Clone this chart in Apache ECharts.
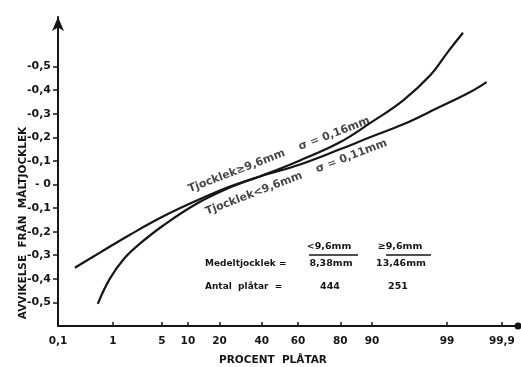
<!DOCTYPE html>
<html>
<head>
<meta charset="utf-8">
<script src="https://cdn.jsdelivr.net/npm/echarts@6/dist/echarts.min.js"></script>
<style>
  html, body { margin: 0; padding: 0; background: #fff; }
  #chart { width: 521px; height: 367px; }
</style>
</head>
<body>
<div id="chart"></div>
<script>
// percent of plates (probability scale) and deviation from nominal thickness (mm)
const thickPct = [0.56, 0.89, 1.54, 2.56, 5.16, 12.4, 24.3, 39.0, 61.0, 79.8, 89.5, 95.7, 98.2, 99.0, 99.46];
const thickDev = [-0.506, -0.400, -0.311, -0.251, -0.175, -0.081, -0.013, 0.034, 0.102, 0.179, 0.260, 0.357, 0.464, 0.557, 0.643];
const thinPct = [0.215, 0.61, 1.84, 5.16, 12.4, 24.3, 39.0, 61.0, 79.8, 89.5, 95.7, 98.56, 99.59, 99.80];
const thinDev = [-0.353, -0.289, -0.213, -0.136, -0.068, -0.009, 0.034, 0.085, 0.149, 0.200, 0.255, 0.323, 0.391, 0.434];

const xTickPct = [0.1, 1, 5, 10, 20, 40, 60, 80, 90, 99, 99.9];
const xTickLabels = ['0,1', '1', '5', '10', '20', '40', '60', '80', '90', '99', '99,9'];
const yTicks = [-0.5, -0.4, -0.3, -0.2, -0.1, 0, 0.1, 0.2, 0.3, 0.4, 0.5];
const yTickLabels = ['-0,5', '-0,4', '-0,3', '-0,2', '-0,1', '- 0', '-0,1', '-0,2', '-0,3', '-0,4', '-0,5'];

// normal quantile (Acklam) -> probability paper
function probit(p) {
  const a = [-39.6968302866538, 220.946098424521, -275.928510446969, 138.357751867269, -30.6647980661472, 2.50662827745924];
  const b = [-54.4760987982241, 161.585836858041, -155.698979859887, 66.8013118877197, -13.2806815528857];
  const c = [-0.00778489400243029, -0.322396458041136, -2.40075827716184, -2.54973253934373, 4.37466414146497, 2.93816398269878];
  const d = [0.00778469570904146, 0.32246712907004, 2.445134137143, 3.75440866190742];
  const pl = 0.02425;
  let q, r;
  if (p < pl) {
    q = Math.sqrt(-2 * Math.log(p));
    return (((((c[0]*q+c[1])*q+c[2])*q+c[3])*q+c[4])*q+c[5]) / ((((d[0]*q+d[1])*q+d[2])*q+d[3])*q+1);
  }
  if (p > 1 - pl) {
    q = Math.sqrt(-2 * Math.log(1 - p));
    return -(((((c[0]*q+c[1])*q+c[2])*q+c[3])*q+c[4])*q+c[5]) / ((((d[0]*q+d[1])*q+d[2])*q+d[3])*q+1);
  }
  q = p - 0.5; r = q * q;
  return (((((a[0]*r+a[1])*r+a[2])*r+a[3])*r+a[4])*r+a[5])*q / (((((b[0]*r+b[1])*r+b[2])*r+b[3])*r+b[4])*r+1);
}
const z = pct => probit(pct / 100);

const xTicks = xTickPct.map(z);
const ink = '#161616';
const font = 'DejaVu Sans';

const chart = echarts.init(document.getElementById('chart'));
chart.setOption({
  backgroundColor: '#fff',
  animation: false,
  grid: { left: 58, right: 3, top: 17, bottom: 41 },
  xAxis: {
    type: 'value',
    min: z(0.1),
    max: 3.315,
    splitLine: { show: false },
    axisLine: { onZero: false, lineStyle: { color: ink, width: 2 }, symbol: ['none', 'circle'], symbolSize: [7, 7] },
    axisTick: { show: true, inside: true, length: 4, customValues: xTicks, lineStyle: { color: ink, width: 1.5 } },
    axisLabel: {
      customValues: xTicks, margin: 10, color: ink, fontFamily: font, fontSize: 10.5, fontWeight: 'bold',
      formatter: v => {
        let best = 0;
        xTicks.forEach((t, i) => { if (Math.abs(t - v) < Math.abs(xTicks[best] - v)) best = i; });
        return xTickLabels[best];
      }
    }
  },
  yAxis: {
    type: 'value',
    min: -0.6,
    max: 0.71,
    splitLine: { show: false },
    axisLine: { onZero: false, lineStyle: { color: ink, width: 2 }, symbol: ['none', 'arrow'], symbolSize: [9, 14] },
    axisTick: { show: true, length: 5, customValues: yTicks, lineStyle: { color: ink, width: 1.5 } },
    axisLabel: {
      customValues: yTicks, margin: 7, color: ink, fontFamily: font, fontSize: 11, fontWeight: 'bold',
      formatter: v => {
        const i = yTicks.findIndex(t => Math.abs(t - v) < 1e-6);
        return i < 0 ? '' : yTickLabels[i];
      }
    }
  },
  series: [
    {
      type: 'line', silent: true, smooth: 0.4, symbol: 'none',
      lineStyle: { color: ink, width: 2.2 },
      data: thickPct.map((p, i) => [z(p), thickDev[i]])
    },
    {
      type: 'line', silent: true, smooth: 0.4, symbol: 'none',
      lineStyle: { color: ink, width: 2.2 },
      data: thinPct.map((p, i) => [z(p), thinDev[i]])
    },
    {
      type: 'scatter', silent: true, symbolSize: 0,
      label: {
        show: true, position: 'inside', rotate: 21, color: ink,
        fontFamily: font, fontSize: 11, fontWeight: 'bold',
        formatter: p => p.data[2]
      },
      data: [
        [z(49.5), 0.125, 'Tjocklek≥9,6mm    σ = 0,16mm'],
        [z(59), 0.030, 'Tjocklek<9,6mm    σ = 0,11mm']
      ]
    }
  ],
  graphic: [
    { type: 'text', x: 23, y: 223, rotation: Math.PI / 2,
      style: { text: 'AVVIKELSE  FRÅN  MÅLTJOCKLEK', fill: ink, font: 'bold 10.5px "DejaVu Sans"', align: 'center', verticalAlign: 'middle' } },
    { type: 'text', x: 273, y: 360,
      style: { text: 'PROCENT  PLÅTAR', fill: ink, font: 'bold 10.5px "DejaVu Sans"', align: 'center', verticalAlign: 'middle' } },
    { type: 'text', x: 329, y: 247,
      style: { text: '<9,6mm', fill: ink, font: 'bold 9.5px "DejaVu Sans"', align: 'center', verticalAlign: 'middle' } },
    { type: 'text', x: 400, y: 247,
      style: { text: '≥9,6mm', fill: ink, font: 'bold 9.5px "DejaVu Sans"', align: 'center', verticalAlign: 'middle' } },
    { type: 'line', shape: { x1: 309, y1: 255, x2: 358, y2: 255 }, style: { stroke: ink, lineWidth: 1.5 } },
    { type: 'line', shape: { x1: 386, y1: 255, x2: 431, y2: 255 }, style: { stroke: ink, lineWidth: 1.5 } },
    { type: 'text', x: 205, y: 264,
      style: { text: 'Medeltjocklek =', fill: ink, font: 'bold 9px "DejaVu Sans"', align: 'left', verticalAlign: 'middle' } },
    { type: 'text', x: 331, y: 264,
      style: { text: '8,38mm', fill: ink, font: 'bold 9.5px "DejaVu Sans"', align: 'center', verticalAlign: 'middle' } },
    { type: 'text', x: 401, y: 264,
      style: { text: '13,46mm', fill: ink, font: 'bold 9.5px "DejaVu Sans"', align: 'center', verticalAlign: 'middle' } },
    { type: 'text', x: 205, y: 287,
      style: { text: 'Antal  plåtar  =', fill: ink, font: 'bold 9px "DejaVu Sans"', align: 'left', verticalAlign: 'middle' } },
    { type: 'text', x: 330, y: 287,
      style: { text: '444', fill: ink, font: 'bold 9.5px "DejaVu Sans"', align: 'center', verticalAlign: 'middle' } },
    { type: 'text', x: 398, y: 287,
      style: { text: '251', fill: ink, font: 'bold 9.5px "DejaVu Sans"', align: 'center', verticalAlign: 'middle' } }
  ]
});
</script>
</body>
</html>
